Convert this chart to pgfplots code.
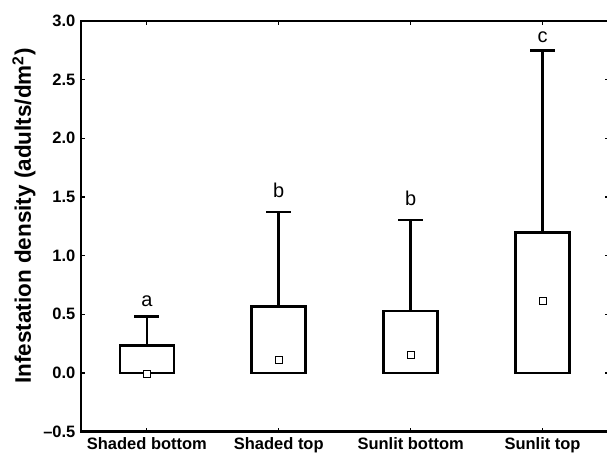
\documentclass[border=0pt]{standalone}
\usepackage{fontspec}
\setmainfont{Liberation Sans}
\usepackage{pgfplots}
\pgfplotsset{compat=1.18}
\begin{document}
\begin{tikzpicture}
\begin{axis}[
  scale only axis,
  width=528pt, height=411pt,
  xmin=-0.5, xmax=3.5,
  ymin=-0.5, ymax=3.0,
  xtick={0,1,2,3},
  xticklabels={Shaded bottom,Shaded top,Sunlit bottom,Sunlit top},
  ytick={-0.5,0,0.5,1,1.5,2,2.5,3},
  yticklabels={--0.5,0.0,0.5,1.0,1.5,2.0,2.5,3.0},
  tick label style={font=\fontsize{16.5}{18}\selectfont\bfseries},
  tick align=inside,
  major tick length=4pt,
  tick style={line width=1.2pt, black},
  axis line style={line width=2.5pt},
  xticklabel style={yshift=-2pt},
  yticklabel style={xshift=-2pt},
  ylabel={Infestation density (adults/dm\textsuperscript{2})},
  ylabel style={font=\fontsize{22.5}{26}\selectfont\bfseries, at={(axis description cs:-0.108,0.525)}, anchor=center},
  clip=false,
]
\coordinate (ll) at (rel axis cs:0,0);
\coordinate (ur) at (rel axis cs:1,1);
\addplot[ybar, bar width=54pt, fill=white, draw=black, line width=2.7pt,
  error bars/.cd, y dir=plus, y explicit,
  error bar style={line width=2.7pt, black},
  error mark options={rotate=90, mark size=12.5pt, line width=2.7pt, black}]
  coordinates {
    (0,0.236) +- (0,0.247)
    (1,0.568) +- (0,0.805)
    (2,0.528) +- (0,0.777)
    (3,1.197) +- (0,1.553)
  };
\addplot[only marks, mark=square*, mark size=3.5pt, mark options={fill=white, draw=black, line width=0.8pt}]
  coordinates {(0,-0.005) (1,0.11) (2,0.153) (3,0.614)};
\node[font=\fontsize{20}{24}\selectfont] at (axis cs:0,0.615) {a};
\node[font=\fontsize{20}{24}\selectfont] at (axis cs:1,1.555) {b};
\node[font=\fontsize{20}{24}\selectfont] at (axis cs:2,1.487) {b};
\node[font=\fontsize{20}{24}\selectfont] at (axis cs:3,2.86) {c};
\end{axis}
\pgfresetboundingbox
\path[use as bounding box] ([shift={(-81pt,-21pt)}]ll) rectangle ([shift={(-1.5pt,21pt)}]ur);
\end{tikzpicture}
\end{document}
